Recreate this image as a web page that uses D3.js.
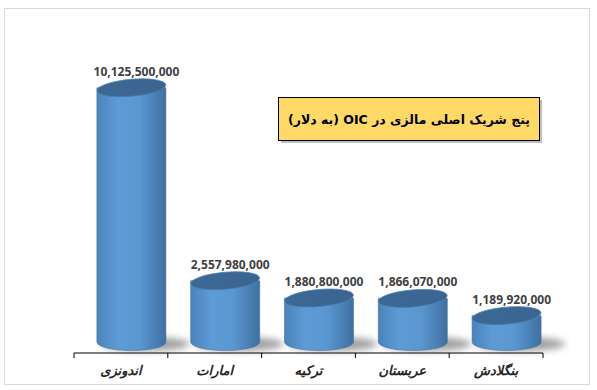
<!DOCTYPE html>
<html>

<head>
  <meta charset="utf-8">
  <title>OIC partners</title>
  <script src="https://cdn.jsdelivr.net/npm/d3@7/dist/d3.min.js"></script>
  <style type="text/css">
    body {
      margin: 0;
      background: #fff;
    }

    .value {
      font-family: 'Noto Sans', 'Open Sans', sans-serif;
      font-weight: bold;
      font-size: 12px;
      fill: #404040;
    }

    .cat {
      font-family: 'DejaVu Sans', sans-serif;
      font-weight: bold;
      font-style: italic;
      font-size: 13px;
      fill: #262626;
    }

    .title {
      font-family: 'DejaVu Sans', sans-serif;
      font-weight: bold;
      font-size: 12.5px;
      fill: #000;
    }
  </style>
</head>

<body>
  <div id="chartArea"></div>
  <script type="text/javascript">
    let categories = ['اندونزی', 'امارات', 'ترکیه', 'عربستان', 'بنگلادش'];
    let values = [10125500000, 2557980000, 1880800000, 1866070000, 1189920000];
    let title = 'پنج شریک اصلی مالزی در  OIC (به دلار)';

    let w = 597;
    let h = 390;

    let svg = d3.select('#chartArea').append('svg')
      .attr('width', w)
      .attr('height', h);

    let defs = svg.append('defs');

    let bodyGrad = defs.append('linearGradient')
      .attr('id', 'body')
      .attr('x1', 0).attr('x2', 1).attr('y1', 0).attr('y2', 0);
    bodyGrad.append('stop').attr('offset', '0%').attr('stop-color', '#4b83bb');
    bodyGrad.append('stop').attr('offset', '30%').attr('stop-color', '#5d9bd6');
    bodyGrad.append('stop').attr('offset', '60%').attr('stop-color', '#5b98d2');
    bodyGrad.append('stop').attr('offset', '100%').attr('stop-color', '#3f70a2');

    let topGrad = defs.append('linearGradient')
      .attr('id', 'top')
      .attr('x1', 0).attr('x2', 1).attr('y1', 0).attr('y2', 0);
    topGrad.append('stop').attr('offset', '0%').attr('stop-color', '#3d6894');
    topGrad.append('stop').attr('offset', '100%').attr('stop-color', '#3a6590');

    defs.append('filter')
      .attr('id', 'blur')
      .attr('x', '-50%').attr('y', '-100%')
      .attr('width', '200%').attr('height', '300%')
      .append('feGaussianBlur')
      .attr('stdDeviation', 3.5);

    // chart area border
    svg.append('rect')
      .attr('x', 4.5)
      .attr('y', 8.5)
      .attr('width', 585)
      .attr('height', 376)
      .attr('fill', 'none')
      .attr('stroke', '#d9d9d9');

    let xScale = d3.scaleBand()
      .domain(categories)
      .range([74, 543]);

    let yScale = d3.scaleLinear()
      .domain([0, 1e10])
      .range([346, 91]);

    let baseY = 342;
    let cw = 69;
    let ry = 8.5;
    let tilt = -5;

    let cx = d => xScale(d) + xScale.bandwidth() / 2 + 10.5;

    let bars = svg.selectAll('g.bar')
      .data(categories.map((c, i) => ({ c: c, v: values[i] })))
      .enter()
      .append('g')
      .attr('class', 'bar');

    // shadow
    bars.append('ellipse')
      .attr('cx', d => cx(d.c) + 14)
      .attr('cy', baseY + 2)
      .attr('rx', cw / 2 + 10)
      .attr('ry', 7)
      .attr('fill', '#7f7f7f')
      .attr('opacity', 0.75)
      .attr('filter', 'url(#blur)');

    // body
    bars.append('path')
      .attr('d', d => {
        let x0 = cx(d.c) - cw / 2;
        let x1 = cx(d.c) + cw / 2;
        let t = yScale(d.v);
        return 'M' + x0 + ',' + t +
          'L' + x0 + ',' + baseY +
          'A' + (cw / 2) + ',' + ry + ' 0 0 0 ' + x1 + ',' + baseY +
          'L' + x1 + ',' + t + 'Z';
      })
      .attr('fill', 'url(#body)')
      .attr('stroke', '#41719c')
      .attr('stroke-width', 0.6);

    // top
    bars.append('ellipse')
      .attr('transform', d => 'translate(' + cx(d.c) + ',' + yScale(d.v) + ') rotate(' + tilt + ')')
      .attr('rx', cw / 2)
      .attr('ry', ry)
      .attr('fill', 'url(#top)')
      .attr('stroke', '#4a7fb3')
      .attr('stroke-width', 0.8);

    // value labels
    bars.append('text')
      .attr('class', 'value')
      .attr('x', d => cx(d.c) + 5)
      .attr('y', d => yScale(d.v) - 12)
      .attr('text-anchor', 'middle')
      .text(d => d3.format(',')(d.v));

    // axis
    let axis = svg.append('g')
      .attr('transform', 'translate(0,353)')
      .call(d3.axisBottom(xScale).tickSize(0).tickFormat(''));
    axis.select('.domain').remove();
    axis.append('line')
      .attr('x1', 74).attr('x2', 543)
      .attr('stroke', '#000');
    axis.selectAll('line.tk')
      .data(d3.range(categories.length + 1))
      .enter()
      .append('line')
      .attr('class', 'tk')
      .attr('x1', i => 74 + i * xScale.step())
      .attr('x2', i => 74 + i * xScale.step())
      .attr('y1', 0).attr('y2', 5)
      .attr('stroke', '#000');

    svg.selectAll('text.cat')
      .data(categories)
      .enter()
      .append('text')
      .attr('class', 'cat')
      .attr('x', d => xScale(d) + xScale.bandwidth() / 2)
      .attr('y', 375)
      .attr('text-anchor', 'middle')
      .attr('direction', 'rtl')
      .text(d => d);

    // title box
    svg.append('rect')
      .attr('x', 281).attr('y', 100)
      .attr('width', 261).attr('height', 43)
      .attr('fill', '#bfbfbf');
    svg.append('rect')
      .attr('x', 278.5).attr('y', 97.5)
      .attr('width', 261).attr('height', 43)
      .attr('fill', '#ffd966')
      .attr('stroke', '#000');
    svg.append('text')
      .attr('class', 'title')
      .attr('x', 409)
      .attr('y', 123.5)
      .attr('text-anchor', 'middle')
      .attr('direction', 'rtl')
      .text(title);
  </script>
</body>

</html>
